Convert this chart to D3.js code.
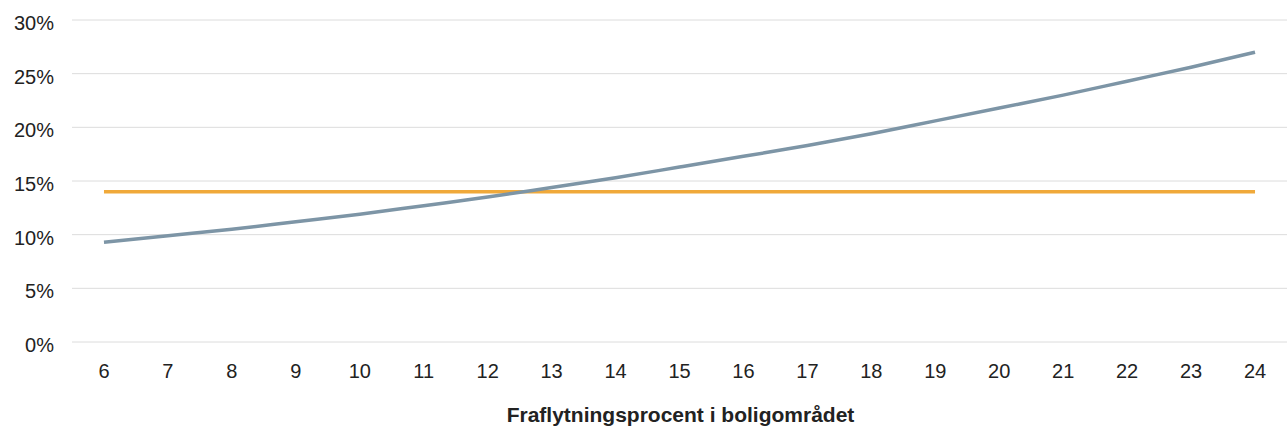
<!DOCTYPE html>
<html><head><meta charset="utf-8">
<script src="https://cdn.jsdelivr.net/npm/d3@7"></script>
<style>body{margin:0;background:#fff}svg{display:block}text{font-family:"Liberation Sans",Arial,sans-serif}</style>
</head><body><svg id="c" width="1287" height="435"></svg>
<script>
const categories = [6,7,8,9,10,11,12,13,14,15,16,17,18,19,20,21,22,23,24];
const curveValues = [9.3,9.9,10.5,11.2,11.9,12.7,13.5,14.4,15.3,16.3,17.3,18.3,19.4,20.6,21.8,23.0,24.3,25.6,27.0];
const flatValues = categories.map(() => 14);
const yTicks = [0,5,10,15,20,25,30];
const xTitle = "Fraflytningsprocent i boligområdet";

(function(){
const svg = d3.select("#c");
const mLeft = 72, mRight = 1287, mTop = 20, mBottom = 342;
const x = d3.scaleBand().domain(categories).range([mLeft, mRight]);
const y = d3.scaleLinear().domain([0,30]).range([mBottom, mTop]);

svg.append("g").selectAll("line").data(yTicks).join("line")
  .attr("x1", mLeft).attr("x2", mRight)
  .attr("y1", d => y(d)).attr("y2", d => y(d))
  .attr("stroke", "#dcdcdc").attr("stroke-width", 1);

svg.append("g").selectAll("text").data(yTicks).join("text")
  .attr("x", 54).attr("y", d => y(d)).attr("dy", "0.5em")
  .attr("text-anchor", "end").attr("font-size", 20).attr("fill", "#222")
  .text(d => d + "%");

svg.append("g").selectAll("text").data(categories).join("text")
  .attr("x", d => x(d) + x.bandwidth()/2).attr("y", 378)
  .attr("text-anchor", "middle").attr("font-size", 20).attr("fill", "#222")
  .text(d => d);

const line = d3.line().x((d,i) => x(categories[i]) + x.bandwidth()/2).y(d => y(d)).curve(d3.curveMonotoneX);
svg.append("path").datum(flatValues).attr("d", line)
  .attr("fill","none").attr("stroke","#f0a93a").attr("stroke-width",3.5);
svg.append("path").datum(curveValues).attr("d", line)
  .attr("fill","none").attr("stroke","#7d95a6").attr("stroke-width",3.5);

svg.append("text").attr("x", (mLeft+mRight)/2 + 1).attr("y", 422)
  .attr("text-anchor","middle").attr("font-size",21).attr("font-weight","bold").attr("fill","#222")
  .text(xTitle);
})();
</script></body></html>
